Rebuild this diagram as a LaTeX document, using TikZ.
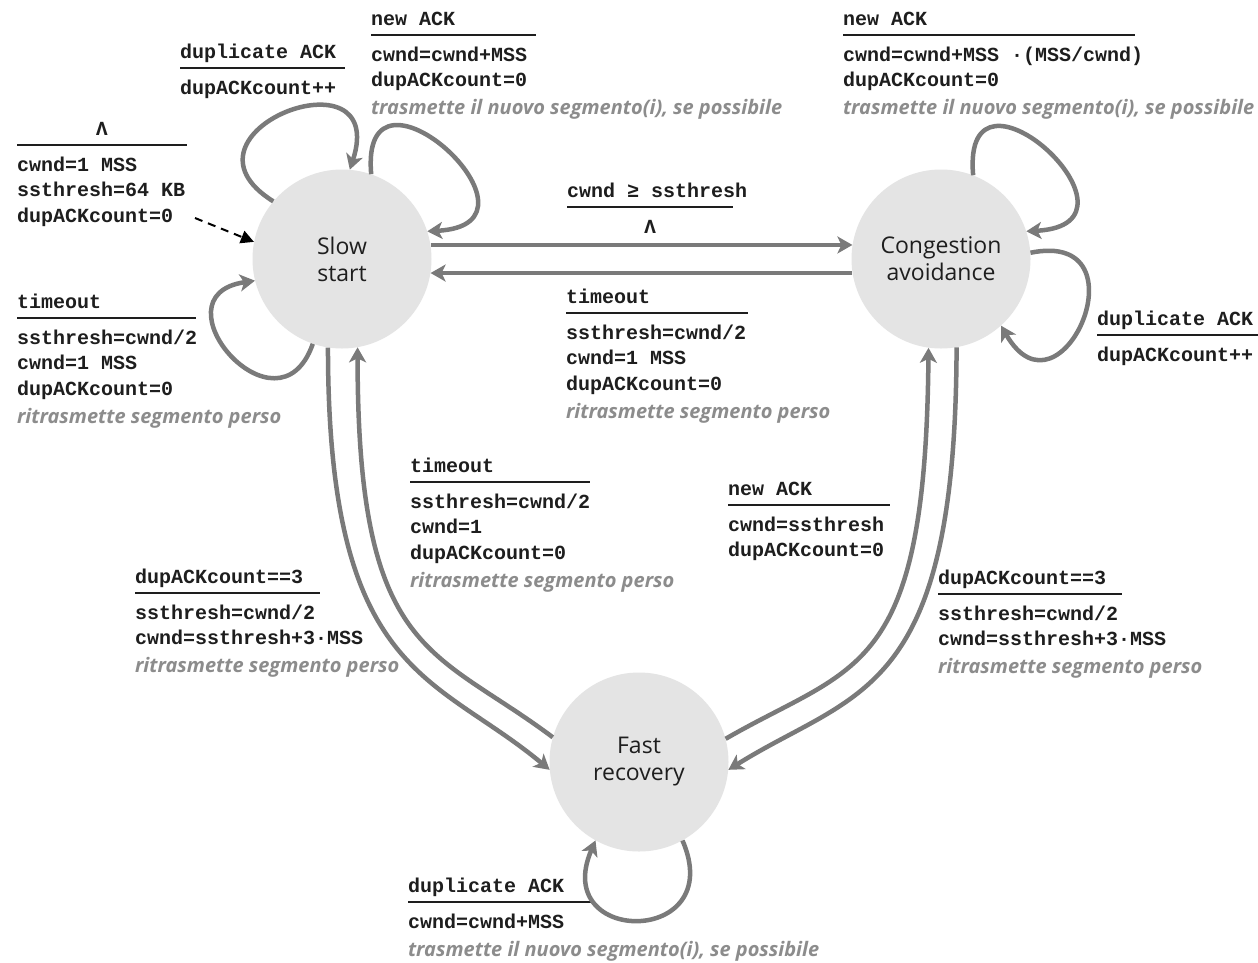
\documentclass[tikz,border=0pt]{standalone}
\usepackage{fontspec}
\usetikzlibrary{arrows.meta}
\newfontfamily\monof{Liberation Mono}
\newfontfamily\sansf{Open Sans}
\definecolor{arrowgrey}{HTML}{7A7A7A}
\definecolor{circfill}{HTML}{E4E4E4}
\definecolor{itgrey}{HTML}{8C8C8C}
\definecolor{textdark}{HTML}{1E1E1E}
\newcommand{\mline}[1]{\hbox{\vrule height 18pt depth 7.7pt width 0pt #1}}
\newcommand{\iline}[1]{\kern2.3pt\hbox{\vrule height 18pt depth 7.7pt width 0pt \color{itgrey}\sansf\itshape\fontsize{20}{25}\selectfont #1}}
\newcommand{\lblock}[3]{\vtop{\offinterlineskip\monof\bfseries\fontsize{20}{25.7}\selectfont
  \mline{#1}\kern1.3pt\hrule height 2pt width #2\kern7pt #3}}
\tikzset{
  state/.style={circle, fill=circfill, draw=none, minimum size=179pt, inner sep=0pt,
    align=center, text=textdark, font=\sansf\fontsize{23}{27}\selectfont},
  lbl/.style={anchor=base west, inner sep=0pt, outer sep=0pt, text=textdark},
  conn/.style={draw=arrowgrey, line width=4.5pt,
    -{Stealth[length=15pt,width=17pt,inset=4pt]}},
  initarrow/.style={draw=black, line width=2pt, dash pattern=on 8pt off 6pt,
    -{Triangle[length=13pt,width=13pt]}}
}
\begin{document}
\begin{tikzpicture}[x=1pt,y=-1pt]
\fill[white] (0,0) rectangle (1258,962);
\useasboundingbox (0,0) rectangle (1258,962);

% states
\node[state] (ss) at (342,259) {Slow\\start};
\node[state] (ca) at (941,259) {Congestion\\avoidance};
\node[state] (fr) at (639,762) {Fast\\recovery};

% labels
\node[lbl] (lA) at (17,135) {\lblock{\hbox to 170pt{\hfil Λ\hfil}}{170pt}{\mline{cwnd=1 MSS}\mline{ssthresh=64 KB}\mline{dupACKcount=0}}};
\node[lbl] (lB) at (180,58) {\lblock{duplicate ACK}{165pt}{\mline{dupACKcount++}}};
\node[lbl] (lC) at (371,25) {\lblock{new ACK}{165pt}{\mline{cwnd=cwnd+MSS}\mline{dupACKcount=0}\iline{trasmette il nuovo segmento(i), se possibile}}};
\node[lbl] (lD) at (843,25) {\lblock{new ACK}{292pt}{\mline{cwnd=cwnd+MSS ·(MSS/cwnd)}\mline{dupACKcount=0}\iline{trasmette il nuovo segmento(i), se possibile}}};
\node[lbl] (lE) at (567,197) {\lblock{cwnd ≥ ssthresh}{166pt}{\mline{\hbox to 166pt{\hfil Λ\hfil}}}};
\node[lbl] (lF) at (566,303) {\lblock{timeout}{182pt}{\mline{ssthresh=cwnd/2}\mline{cwnd=1 MSS}\mline{dupACKcount=0}\iline{ritrasmette segmento perso}}};
\node[lbl] (lG) at (17,308) {\lblock{timeout}{179pt}{\mline{ssthresh=cwnd/2}\mline{cwnd=1 MSS}\mline{dupACKcount=0}\iline{ritrasmette segmento perso}}};
\node[lbl] (lH) at (1097,325) {\lblock{duplicate ACK}{165pt}{\mline{dupACKcount++}}};
\node[lbl] (lI) at (410,472) {\lblock{timeout}{180pt}{\mline{ssthresh=cwnd/2}\mline{cwnd=1}\mline{dupACKcount=0}\iline{ritrasmette segmento perso}}};
\node[lbl] (lJ) at (728,495) {\lblock{new ACK}{162pt}{\mline{cwnd=ssthresh}\mline{dupACKcount=0}}};
\node[lbl] (lK) at (135,583) {\lblock{dupACKcount==3}{185pt}{\mline{ssthresh=cwnd/2}\mline{cwnd=ssthresh+3·MSS}\iline{ritrasmette segmento perso}}};
\node[lbl] (lL) at (938,584) {\lblock{dupACKcount==3}{184pt}{\mline{ssthresh=cwnd/2}\mline{cwnd=ssthresh+3·MSS}\iline{ritrasmette segmento perso}}};
\node[lbl] (lM) at (408,892) {\lblock{duplicate ACK}{183pt}{\mline{cwnd=cwnd+MSS}\iline{trasmette il nuovo segmento(i), se possibile}}};

% initial arrow
\coordinate (init) at (195,218);
\draw[initarrow] (init) -- (ss.169);

% straight transitions
\draw[conn] (ss.9) -- (ca.171);
\draw[conn] (ca.189) -- (ss.-9);

% self loops
\draw[conn] (ss.140) .. controls +(-110.5,-69) and +(40,-123.5) .. (ss.85);
\draw[conn] (ss.71) .. controls +(-12,-135) and +(135,-7) .. (ss.18);
\draw[conn] (ss.-109) .. controls +(-35,100) and +(-104,15) .. (ss.194);
\draw[conn] (ca.69) .. controls +(-12,-135) and +(135,-7) .. (ca.18);
\draw[conn] (ca.4) .. controls +(117.6,-24) and +(60,104) .. (ca.-48);
\draw[conn] (fr.-61) .. controls +(46,106) and +(-46,106) .. (fr.-119);

% long curves
\draw[conn] (ss.-99) .. controls +(0,330) and +(-115,-96) .. (fr.185);
\draw[conn] (fr.164) .. controls +(-120,-90) and +(0,310) .. (ss.-80);
\draw[conn] (ca.-80) .. controls +(-1,352) and +(128,-80) .. (fr.-5);
\draw[conn] (fr.15) .. controls +(130,-75) and +(-3,330) .. (ca.-98);
\end{tikzpicture}
\end{document}
